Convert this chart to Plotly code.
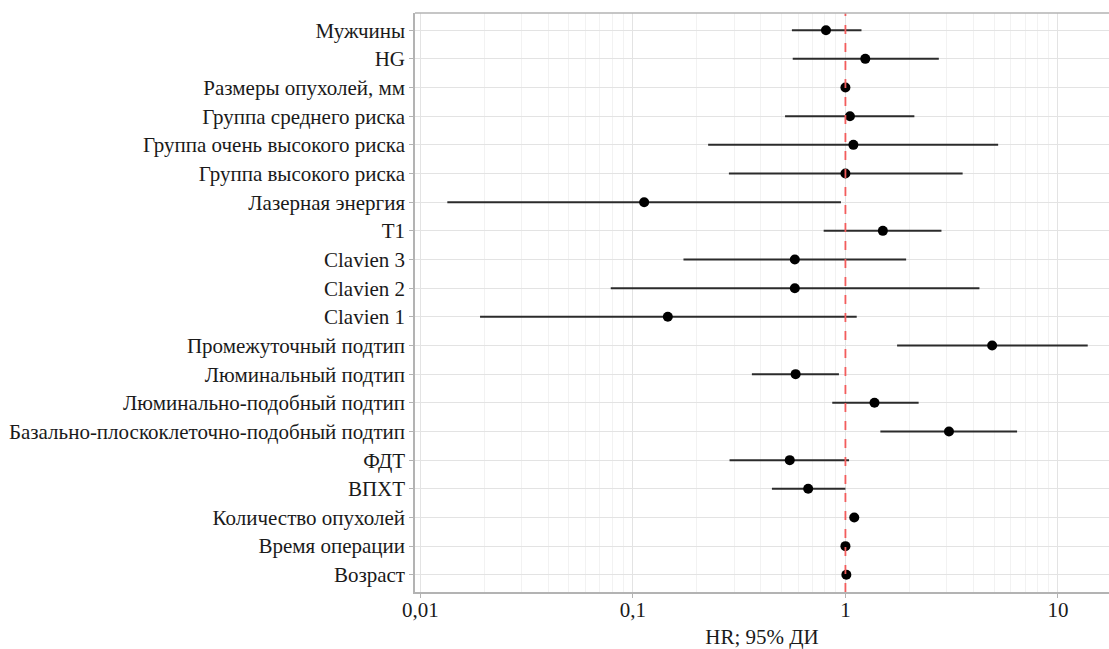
import plotly.graph_objects as go

labels = [
    "Мужчины", "HG", "Размеры опухолей, мм", "Группа среднего риска",
    "Группа очень высокого риска", "Группа высокого риска", "Лазерная энергия",
    "T1", "Clavien 3", "Clavien 2", "Clavien 1", "Промежуточный подтип",
    "Люминальный подтип", "Люминально-подобный подтип",
    "Базально-плоскоклеточно-подобный подтип", "ФДТ", "ВПХТ",
    "Количество опухолей", "Время операции", "Возраст",
]
hr =    [0.81, 1.24, 1.00, 1.05, 1.09, 1.00, 0.113, 1.50, 0.578, 0.578, 0.146, 4.90, 0.583, 1.37, 3.07, 0.547, 0.668, 1.10, 1.00, 1.01]
lower = [0.56, 0.565, 0.99, 0.52, 0.226, 0.283, 0.0134, 0.79, 0.173, 0.0787, 0.0191, 1.75, 0.363, 0.867, 1.46, 0.285, 0.451, 1.05, 0.99, 1.00]
upper = [1.19, 2.75, 1.01, 2.11, 5.23, 3.56, 0.953, 2.83, 1.93, 4.27, 1.13, 13.8, 0.932, 2.21, 6.42, 1.04, 1.00, 1.16, 1.01, 1.02]

tick_vals = [0.01, 0.1, 1, 10]
tick_text = ["0,01", "0,1", "1", "10"]
minor_vals = [m * d for d in (0.01, 0.1, 1, 10) for m in range(2, 10)]

ypos = list(range(len(labels)))[::-1]

fig = go.Figure()
fig.add_trace(go.Scatter(
    x=hr, y=ypos, mode="markers",
    marker=dict(color="black", size=10),
    error_x=dict(type="data", symmetric=False,
                 array=[u - h for u, h in zip(upper, hr)],
                 arrayminus=[h - l for h, l in zip(hr, lower)],
                 color="#2b2b2b", thickness=2, width=0),
    showlegend=False, hoverinfo="skip",
))

fig.add_shape(type="line", xref="x", yref="paper", x0=1, x1=1, y0=0, y1=1,
              line=dict(color="#f25c5c", width=1.8, dash="dash"), layer="above")

fig.update_layout(
    width=1109, height=649,
    margin=dict(l=415, r=0, t=13, b=57),
    paper_bgcolor="white", plot_bgcolor="white",
    font=dict(family="Liberation Serif, Times New Roman, serif", size=21, color="#1a1a1a"),
    xaxis=dict(
        type="log", range=[-2.025, 1.24],
        tickvals=tick_vals, ticktext=tick_text,
        showgrid=True, gridcolor="#e3e3e3", gridwidth=1,
        minor=dict(tickvals=minor_vals, showgrid=True, gridcolor="#f2f2f2", gridwidth=1, ticklen=0),
        ticks="outside", ticklen=4, tickcolor="#b3b3b3",
        ticklabelstandoff=-6,
        showline=True, linecolor="#b3b3b3", linewidth=1.5, mirror=False,
        zeroline=False,
        title=dict(text="HR; 95% ДИ", font=dict(size=21), standoff=10),
        tickfont=dict(size=21),
    ),
    yaxis=dict(
        range=[-0.6, len(labels) - 0.4],
        tickvals=ypos, ticktext=labels,
        showgrid=True, gridcolor="#e3e3e3", gridwidth=1,
        ticks="outside", ticklen=4, tickcolor="#b3b3b3",
        showline=True, linecolor="#b3b3b3", linewidth=1.5,
        zeroline=False, tickfont=dict(size=21),
    ),
)
fig.add_shape(type="line", xref="paper", yref="paper", x0=0, x1=1, y0=1, y1=1,
              line=dict(color="#b3b3b3", width=1.5))

fig.write_html("out.html")
